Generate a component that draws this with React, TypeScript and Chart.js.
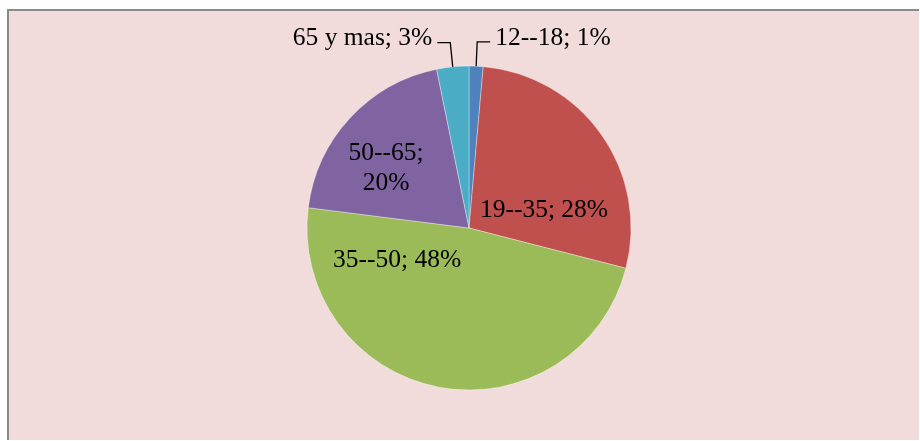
import { useEffect, useRef } from "react";
import { Chart, registerables } from "chart.js";

Chart.register(...registerables);

const categories = ["12--18", "19--35", "35--50", "50--65", "65 y mas"];
const shares = [1.4, 27.6, 48, 19.8, 3.2];
const sliceColors = ["#4F81BD", "#C0504D", "#9BBB59", "#8064A2", "#4BACC6"];

// label placement (style): outside labels with leader lines, inside labels offset from centre in radius units
const labelPlacement = [
  { outside: true, dx: 0, dy: 0, split: false },
  { outside: false, dx: 0.463, dy: -0.111, split: false },
  { outside: false, dx: -0.444, dy: 0.198, split: false },
  { outside: false, dx: -0.512, dy: -0.37, split: true },
  { outside: true, dx: 0, dy: 0, split: false },
];

const FONT = "25.5px 'Liberation Serif', 'Times New Roman', serif";

const labelPlugin = {
  id: "pieLabels",
  afterDatasetsDraw(chart: any) {
    const ctx = chart.ctx as CanvasRenderingContext2D;
    const meta = chart.getDatasetMeta(0);
    ctx.save();
    ctx.font = FONT;
    ctx.fillStyle = "#000";
    ctx.strokeStyle = "#000";
    ctx.lineWidth = 1.3;
    meta.data.forEach((arc: any, i: number) => {
      const { x, y, startAngle, endAngle, outerRadius } = arc.getProps(
        ["x", "y", "startAngle", "endAngle", "outerRadius"],
        true
      );
      const pct = `${Math.round(shares[i])}%`;
      const place = labelPlacement[i];
      if (place.outside) {
        const mid = (startAngle + endAngle) / 2;
        const ax = x + Math.cos(mid) * outerRadius;
        const ay = y + Math.sin(mid) * outerRadius;
        const ex = x + Math.cos(mid) * outerRadius * 1.15;
        const ey = y + Math.sin(mid) * outerRadius * 1.15;
        const dir = Math.cos(mid) >= 0 ? 1 : -1;
        const hx = ex + dir * 13;
        ctx.beginPath();
        ctx.moveTo(ax, ay);
        ctx.lineTo(ex, ey);
        ctx.lineTo(hx, ey);
        ctx.stroke();
        ctx.textAlign = dir > 0 ? "left" : "right";
        ctx.textBaseline = "middle";
        ctx.fillText(`${categories[i]}; ${pct}`, hx + dir * 5, ey - 4);
      } else {
        const lines = place.split
          ? [`${categories[i]};`, pct]
          : [`${categories[i]}; ${pct}`];
        const cx = x + place.dx * outerRadius;
        const cy = y + place.dy * outerRadius;
        const lh = 30;
        ctx.textAlign = "center";
        ctx.textBaseline = "middle";
        lines.forEach((t, k) => {
          ctx.fillText(t, cx, cy + (k - (lines.length - 1) / 2) * lh);
        });
      }
    });
    ctx.restore();
  },
};

export default function App() {
  const ref = useRef<HTMLCanvasElement | null>(null);
  useEffect(() => {
    if (!ref.current) return;
    const chart = new Chart(ref.current, {
      type: "pie",
      data: {
        labels: categories,
        datasets: [
          {
            data: shares,
            backgroundColor: sliceColors,
            borderColor: "rgba(255,255,255,0.35)",
            borderWidth: 1,
            hoverOffset: 0,
            radius: 162,
          } as any,
        ],
      },
      options: {
        animation: false,
        responsive: false,
        devicePixelRatio: 1,
        layout: { padding: { left: 150, right: 140, top: 55, bottom: 50 } },
        plugins: {
          legend: { display: false },
          tooltip: { enabled: false },
          title: { display: false },
        },
      },
      plugins: [labelPlugin],
    });
    return () => chart.destroy();
  }, []);
  return (
    <div
      style={{
        position: "absolute",
        left: 7,
        top: 9,
        width: 910,
        height: 429,
        borderLeft: "2px solid #8a8a8a",
        borderTop: "2px solid #8a8a8a",
        background: "#F2DCDB",
        overflow: "hidden",
      }}
    >
      <canvas ref={ref} width={910} height={429} style={{ display: "block" }} />
    </div>
  );
}
